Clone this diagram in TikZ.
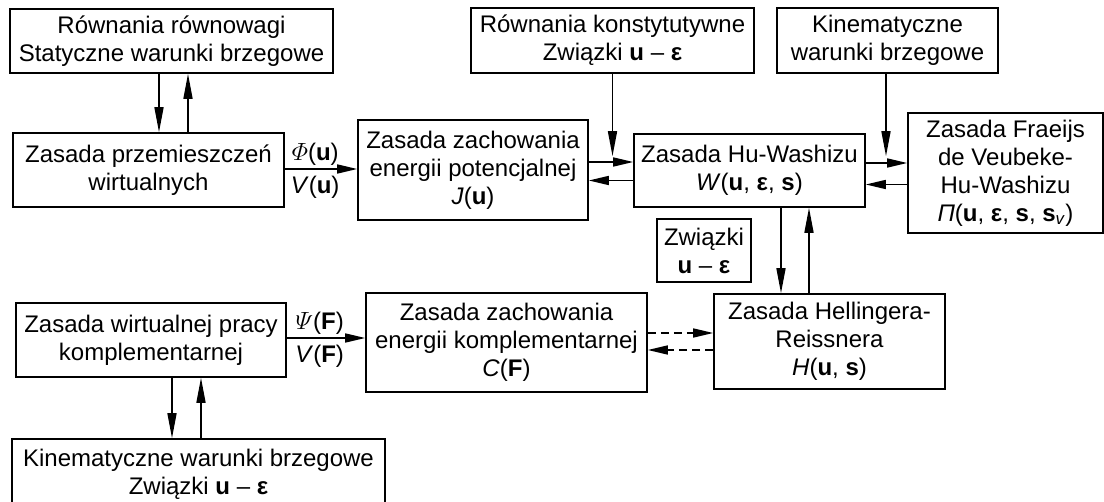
\documentclass[tikz,border=0pt]{standalone}
\usepackage{amsmath}
\usepackage{fontspec}
\setmainfont{Liberation Sans}
\usetikzlibrary{arrows.meta}
\begin{document}
\begin{tikzpicture}[x=1pt,y=-1pt,
  every node/.style={font=\fontsize{24}{28}\selectfont},
  box/.style={draw, line width=1.6pt, align=center, inner sep=0pt, anchor=center},
  conn/.style={line width=1.6pt},
  harr/.style={conn,-{Triangle[length=20pt,width=9pt]}},
  varr/.style={conn,-{Triangle[length=25pt,width=9pt]}},
  dasharr/.style={harr, dash pattern=on 8pt off 5pt},
  lbl/.style={inner sep=0pt}
]
\useasboundingbox (0,0) rectangle (1104,502);

\node[box, minimum width=323pt, minimum height=64pt] (A) at (171.5,41)
  {Równania równowagi\\Statyczne warunki brzegowe};
\node[box, minimum width=271pt, minimum height=74pt] (B) at (148.5,170)
  {Zasada przemieszczeń\\wirtualnych};
\node[box, minimum width=230pt, minimum height=100pt] (C) at (473,170)
  {Zasada zachowania\\energii potencjalnej\\\textit{J}(\textbf{u})};
\node[box, minimum width=283pt, minimum height=65pt] (D) at (612.5,40.5)
  {Równania konstytutywne\\Związki \textbf{u} – \textbf{ε}};
\node[box, minimum width=231pt, minimum height=73pt] (E) at (749.5,170.5)
  {Zasada Hu-Washizu\\\textit{W}(\textbf{u}, \textbf{ε}, \textbf{s})};
\node[box, minimum width=221pt, minimum height=65pt] (F) at (887.5,40.5)
  {Kinematyczne\\warunki brzegowe};
\node[box, minimum width=195pt, minimum height=120pt] (G) at (1005.5,173)
  {Zasada Fraeijs\\de Veubeke-\\Hu-Washizu\\\textit{Π}(\textbf{u}, \textbf{ε}, \textbf{s}, \textbf{s}\textsubscript{\textit{v}})};
\node[box, minimum width=94pt, minimum height=63pt] (H) at (704,250.5)
  {Związki\\\textbf{u} – \textbf{ε}};
\node[box, minimum width=231pt, minimum height=95pt] (I) at (829.5,341.5)
  {Zasada Hellingera-\\Reissnera\\\textit{H}(\textbf{u}, \textbf{s})};
\node[box, minimum width=281pt, minimum height=99pt] (J) at (506.5,342.5)
  {Zasada zachowania\\energii komplementarnej\\\textit{C}(\textbf{F})};
\node[box, minimum width=270pt, minimum height=74pt] (K) at (151,340)
  {Zasada wirtualnej pracy\\komplementarnej};
\node[box, minimum width=373pt, minimum height=70pt] (L) at (198.5,474)
  {Kinematyczne warunki brzegowe\\Związki \textbf{u} – \textbf{ε}};

% A <-> B
\draw[varr] ([xshift=-12.5pt]A.south) -- ([xshift=-12.5pt]A.south |- B.north);
\draw[varr] ([xshift=16.5pt]A.south |- B.north) -- ([xshift=16.5pt]A.south);
% B -> C
\draw[harr] ([yshift=1pt]B.east) -- node[lbl, above=3pt, pos=0.42] (phi) {$\varPhi$(\textbf{u})}
  node[lbl, below=6pt, pos=0.42] (vu) {\textit{V}(\textbf{u})} ([yshift=1pt]B.east -| C.west);
% D, F down
\draw[varr] (D.south) -- ([yshift=-23pt]D.south |- E.north);
\draw[varr] ([xshift=-1.5pt]F.south) -- ([yshift=-23pt,xshift=-1.5pt]F.south |- E.north);
% C <-> E
\draw[harr] ([yshift=8pt]C.east) -- ([yshift=8pt]C.east -| E.west);
\draw[harr] ([yshift=-10pt]E.west) -- ([yshift=-10pt]E.west -| C.east);
% E <-> G
\draw[harr] ([yshift=7.5pt]E.east) -- ([yshift=7.5pt]E.east -| G.west);
\draw[harr] ([yshift=-11.5pt]G.west) -- ([yshift=-11.5pt]G.west -| E.east);
% E <-> I
\draw[varr] ([xshift=31.5pt]E.south) -- ([xshift=31.5pt]E.south |- I.north);
\draw[varr] ([xshift=59.5pt]E.south |- I.north) -- ([xshift=59.5pt]E.south);
% J <-> I dashed
\draw[dasharr] ([yshift=9.5pt]J.east) -- ([yshift=9.5pt]J.east -| I.west);
\draw[dasharr] ([yshift=-8.5pt]I.west) -- ([yshift=-8.5pt]I.west -| J.east);
% K -> J
\draw[harr] ([yshift=2pt]K.east) -- node[lbl, above=3pt, pos=0.42] (psi) {$\varPsi$(\textbf{F})}
  node[lbl, below=6pt, pos=0.42] (vf) {\textit{V}(\textbf{F})} ([yshift=2pt]K.east -| J.west);
% K <-> L
\draw[varr] ([xshift=21pt]K.south) -- ([xshift=21pt]K.south |- L.north);
\draw[varr] ([xshift=50pt]K.south |- L.north) -- ([xshift=50pt]K.south);
\end{tikzpicture}
\end{document}
